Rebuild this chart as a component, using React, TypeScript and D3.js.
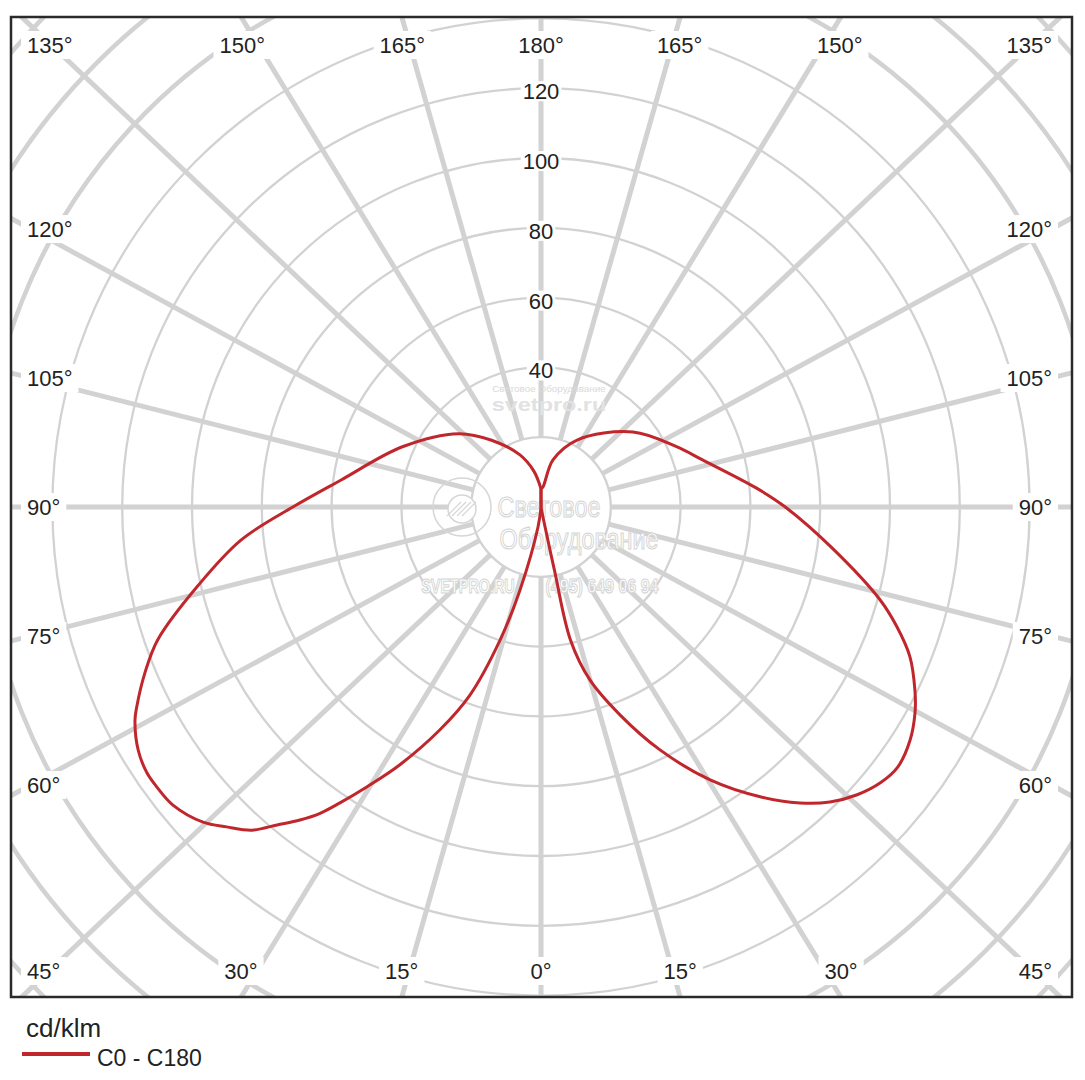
import React, { useEffect, useRef } from "react";
import * as d3 from "d3";

// ---- grid definition ----
const ringValues = [20, 40, 60, 80, 100, 120, 140, 160, 180, 200];
const ringLabelValues = [40, 60, 80, 100, 120];
const spokeAngles = [0, 15, 30, 45, 60, 75, 90, 105, 120, 135, 150, 165, 180];

// ---- C0 plane (right half): angle from nadir (deg), intensity (cd/klm) ----
const c0Angles = [0, 11, 12, 12.5, 15.8, 20.8, 26.1, 31.8, 37.1, 41.2, 44.4, 47.7, 50.9, 53.9, 57.7, 61.2, 63.9, 67.9, 71.4, 74.7, 82.0, 90, 95, 106.5, 114, 129.2, 151.7, 165.7, 174.3, 180];
const c0Values = [0, 3.0, 18.5, 39.0, 51.5, 63.7, 77.5, 92.0, 104.1, 112.7, 118.3, 122.5, 125.3, 126.5, 125.1, 122.3, 119.3, 114.1, 107.6, 100.7, 84.2, 70.0, 62.0, 48.0, 42.5, 34.0, 21.8, 13.9, 5.8, 5.2];

// ---- C180 plane (left half) ----
const c180Angles = [0, 8.5, 14.2, 17.1, 20.7, 24.4, 28.7, 31.9, 34.2, 35.8, 37.6, 39.7, 41.8, 44.5, 47.0, 51.0, 53.9, 56.0, 58.9, 62.3, 63.7, 67.3, 70.9, 77.1, 83.7, 90, 97.7, 113.5, 131.7, 143.5, 158, 168.9, 180];
const c180Values = [0, 5.8, 24.5, 39.9, 57.6, 70.1, 84.2, 94.5, 102.5, 108.2, 113.2, 118.4, 124.2, 128.5, 132.4, 135.7, 136.2, 136.2, 134.8, 131.4, 129.2, 123.0, 116.2, 100.8, 86.5, 71.1, 57.8, 43.3, 31.6, 23.8, 16.1, 10.4, 5.2];

const unitLabel = "cd/klm";
const seriesLabel = "C0 - C180";

const FONT = "'Liberation Sans', Arial, Helvetica, sans-serif";
const GRID_SKEW = 1.06;

export default function App() {
  const ref = useRef<SVGSVGElement>(null);

  useEffect(() => {
    const svg = d3.select(ref.current);
    svg.selectAll("*").remove();

    const cx = 541, cy = 507;
    const r = d3.scaleLinear().domain([0, 200]).range([0, 698]);
    const frame = { x: 11, y: 17, w: 1061, h: 980 };
    const gridColor = "#d2d2d2";
    const red = "#c0272d";

    svg.append("rect").attr("width", 1085).attr("height", 1080).attr("fill", "#fff");

    const defs = svg.append("defs");
    defs.append("clipPath").attr("id", "frameClip").append("rect")
      .attr("x", frame.x).attr("y", frame.y).attr("width", frame.w).attr("height", frame.h);

    const grid = svg.append("g").attr("clip-path", "url(#frameClip)");

    grid.selectAll("circle.ring").data(ringValues).join("circle")
      .attr("class", "ring")
      .attr("cx", cx).attr("cy", cy).attr("r", (d) => r(d))
      .attr("fill", "none").attr("stroke", gridColor)
      .attr("stroke-width", (d) => (d >= 160 ? 4.5 : 2.3));

    type Spoke = { a: number; side: number };
    const spokes: Spoke[] = [];
    [1, -1].forEach((side) => spokeAngles.forEach((a) => {
      if (side === -1 && (a === 0 || a === 180)) return;
      spokes.push({ a, side });
    }));
    const dir = (a: number, side: number) => {
      const g = (a * Math.PI) / 180;
      const dx = side * GRID_SKEW * Math.sin(g), dy = Math.cos(g);
      const l = Math.hypot(dx, dy);
      return [dx / l, dy / l];
    };
    grid.selectAll("line.spoke").data(spokes).join("line")
      .attr("class", "spoke")
      .attr("x1", (d) => cx + dir(d.a, d.side)[0] * r(20))
      .attr("y1", (d) => cy + dir(d.a, d.side)[1] * r(20))
      .attr("x2", (d) => cx + dir(d.a, d.side)[0] * 1000)
      .attr("y2", (d) => cy + dir(d.a, d.side)[1] * 1000)
      .attr("stroke", gridColor).attr("stroke-width", 5);

    // ---- angle labels ----
    const topY = 45, botY = 971, leftX = 27, rightX = 1052;
    const labelPos = (a: number, side: number) => {
      const g = (a * Math.PI) / 180;
      const cosg = Math.cos(g);
      if (a !== 90) {
        const edgeDy = cosg < 0 ? cy - topY : botY - cy;
        const fromVert = cosg < 0 ? Math.PI - g : g;
        const xoff = edgeDy * 1.12 * Math.tan(fromVert);
        if (xoff <= 470) {
          return { x: cx + side * xoff, y: cosg < 0 ? topY : botY, anchor: "middle" };
        }
      }
      const beta = Math.abs(Math.PI / 2 - g);
      const yoff = ((cx - leftX - 23) * Math.tan(beta)) / 1.02;
      const sx = side < 0 ? leftX : rightX;
      const anchor = side < 0 ? "start" : "end";
      if (yoff <= 463) return { x: sx, y: cy + Math.sign(cosg) * yoff, anchor };
      return { x: sx, y: cosg < 0 ? topY : botY, anchor };
    };

    const labels = svg.append("g");
    const addLabel = (txt: string, x: number, yc: number, anchor: string, pad: number) => {
      const g = labels.append("g");
      const t = g.append("text")
        .attr("x", x).attr("y", yc + 8)
        .attr("text-anchor", anchor)
        .attr("font-family", FONT).attr("font-size", 22).attr("fill", "#222")
        .text(txt);
      const bb = (t.node() as SVGTextElement).getBBox();
      g.insert("rect", "text")
        .attr("x", bb.x - pad).attr("y", yc - 8 - pad)
        .attr("width", bb.width + pad * 2).attr("height", 16 + pad * 2)
        .attr("fill", "#fff");
    };
    spokes.forEach((s) => {
      const p = labelPos(s.a, s.side);
      addLabel(`${s.a}°`, p.x, p.y, p.anchor, 6);
    });
    ringLabelValues.forEach((v) => {
      addLabel(String(v), cx, cy - r(v) + 3, "middle", 2);
    });

    // ---- watermark (squeezed horizontally via transform) ----
    const wm = svg.append("g").attr("font-family", FONT).attr("text-anchor", "middle");
    const wmText = (txt: string, x: number, y: number, size: number, sx: number, bold: boolean, fill: string, stroke?: string) => {
      const t = wm.append("text")
        .attr("transform", `translate(${x},${y}) scale(${sx},1)`)
        .attr("font-size", size).attr("font-weight", bold ? "bold" : "normal")
        .attr("fill", fill).text(txt);
      if (stroke) t.attr("stroke", stroke).attr("stroke-width", 1.1);
    };
    wmText("Световое Оборудование", 549, 392, 9, 1.1, false, "#dadada");
    wmText("svetpro.ru", 549, 411, 18, 1.3, true, "#e2e2e2");
    wmText("Световое", 549, 517, 30, 0.78, false, "#fff", "#d4d4d4");
    wmText("Оборудование", 579, 549, 30, 0.78, false, "#fff", "#d4d4d4");
    wmText("SVETPRO.RU", 468, 593, 20, 0.72, true, "#fff", "#d4d4d4");
    wmText("(495) 649 06 94", 602, 593, 20, 0.8, true, "#fff", "#d4d4d4");
    wm.append("circle").attr("cx", 462).attr("cy", 507).attr("r", 29)
      .attr("fill", "none").attr("stroke", "#d6d6d6").attr("stroke-width", 1.5);
    wm.append("circle").attr("cx", 462).attr("cy", 509).attr("r", 14)
      .attr("fill", "#fff").attr("stroke", "#d6d6d6").attr("stroke-width", 1.5);
    [-8, -3, 2, 7].forEach((o) => {
      wm.append("line").attr("x1", 462 + o - 7).attr("y1", 516).attr("x2", 462 + o + 7).attr("y2", 502)
        .attr("stroke", "#d6d6d6").attr("stroke-width", 1.2);
    });

    // ---- frame ----
    svg.append("rect").attr("x", frame.x).attr("y", frame.y).attr("width", frame.w).attr("height", frame.h)
      .attr("fill", "none").attr("stroke", "#2a2a2a").attr("stroke-width", 2.5);

    // ---- curve ----
    const toRad = Math.PI / 180;
    const right: [number, number][] = c0Angles.map((a, i) => [a, c0Values[i]]);
    const left: [number, number][] = c180Angles.map((a, i) => [a, c180Values[i]]);
    const lineR = d3.lineRadial<[number, number]>()
      .angle((d) => Math.PI - d[0] * toRad).radius((d) => r(d[1])).curve(d3.curveCatmullRom.alpha(0.5));
    const lineL = d3.lineRadial<[number, number]>()
      .angle((d) => Math.PI + d[0] * toRad).radius((d) => r(d[1])).curve(d3.curveCatmullRom.alpha(0.5));
    const cg = svg.append("g").attr("transform", `translate(${cx},${cy})`)
      .attr("fill", "none").attr("stroke", red).attr("stroke-width", 3).attr("stroke-linejoin", "round");
    cg.append("path").attr("d", (lineL(left) as string) + "Z");
    cg.append("path").attr("d", (lineR(right) as string) + "Z");

    // ---- legend ----
    svg.append("text").attr("x", 26).attr("y", 1037).attr("font-family", FONT).attr("font-size", 26)
      .attr("fill", "#222").text(unitLabel);
    svg.append("line").attr("x1", 22).attr("x2", 90).attr("y1", 1054).attr("y2", 1054)
      .attr("stroke", red).attr("stroke-width", 4);
    svg.append("text").attr("x", 97).attr("y", 1066).attr("font-family", FONT).attr("font-size", 23)
      .attr("fill", "#222").text(seriesLabel);
  }, []);

  return (
    <div style={{ position: "absolute", left: 0, top: 0 }}>
      <svg ref={ref} width={1085} height={1080} style={{ display: "block" }} />
    </div>
  );
}
